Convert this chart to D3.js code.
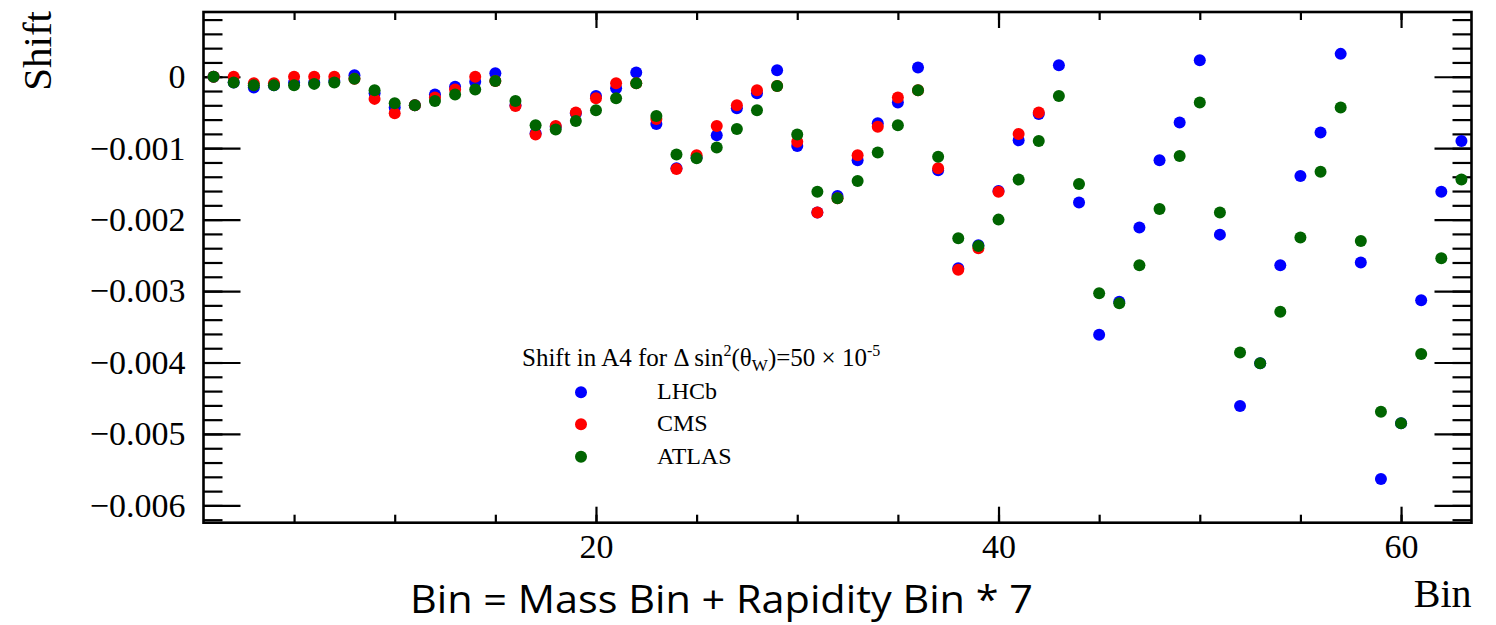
<!DOCTYPE html>
<html>
<head>
<meta charset="utf-8">
<script src="https://cdn.jsdelivr.net/npm/d3@7"></script>
<style>
  body { margin: 0; background: #fff; }
  svg { display: block; }
</style>
</head>
<body>
<div class="outer-container"></div>
<script>
// bin numbers (x categories)
const bins = [1, 2, 3, 4, 5, 6, 7, 8, 9, 10, 11, 12, 13, 14, 15, 16, 17, 18, 19, 20, 21,
  22, 23, 24, 25, 26, 27, 28, 29, 30, 31, 32, 33, 34, 35, 36, 37, 38, 39, 40, 41, 42,
  43, 44, 45, 46, 47, 48, 49, 50, 51, 52, 53, 54, 55, 56, 57, 58, 59, 60, 61, 62, 63]

const lhcb = [0, -0.00008, -0.00015, -0.00012, -0.00008, -0.00008, -0.00006,
  0.00002, -0.00023, -0.00043, -0.0004, -0.00025, -0.00014, -0.00007,
  0.00005, -0.0004, -0.00079, -0.0007, -0.00051, -0.00027, -0.00016,
  0.00006, -0.00066, -0.00128, -0.00113, -0.00082, -0.00044, -0.00023,
  0.00009, -0.00097, -0.0019, -0.00167, -0.00117, -0.00065, -0.00036,
  0.00013, -0.00131, -0.00268, -0.00236, -0.0016, -0.00089, -0.00052,
  0.00016, -0.00176, -0.00361, -0.00315, -0.00211, -0.00117, -0.00064,
  0.00023, -0.00221, -0.00461, -0.00401, -0.00264, -0.00139, -0.00078,
  0.00032, -0.0026, -0.00563, -0.00485, -0.00313, -0.00161, -0.0009]

// CMS only covers the first 42 bins
const cms = [0, 0, -0.00009, -0.00009, 0, 0, 0,
  -0.00003, -0.00031, -0.00051, -0.0004, -0.00029, -0.00018, 0,
  -0.00006, -0.00041, -0.00081, -0.00069, -0.0005, -0.0003, -0.00009,
  -0.00009, -0.00059, -0.00129, -0.0011, -0.00069, -0.0004, -0.00019,
  -0.00013, -0.00091, -0.0019, -0.0017, -0.0011, -0.0007, -0.00029,
  -0.00019, -0.00128, -0.0027, -0.0024, -0.00161, -0.0008, -0.0005]

const atlas = [0, -0.00008, -0.00012, -0.00012, -0.00012, -0.0001, -0.00008,
  -0.00003, -0.00019, -0.00037, -0.0004, -0.00034, -0.00025, -0.00018,
  -0.00006, -0.00034, -0.00068, -0.00074, -0.00062, -0.00047, -0.0003,
  -0.00009, -0.00055, -0.00109, -0.00114, -0.00099, -0.00073, -0.00047,
  -0.00013, -0.00081, -0.00161, -0.0017, -0.00146, -0.00106, -0.00068,
  -0.00019, -0.00112, -0.00226, -0.00237, -0.002, -0.00144, -0.0009,
  -0.00027, -0.0015, -0.00303, -0.00317, -0.00264, -0.00185, -0.00111,
  -0.00036, -0.0019, -0.00386, -0.00401, -0.00329, -0.00225, -0.00133,
  -0.00043, -0.0023, -0.00469, -0.00485, -0.00388, -0.00254, -0.00144]

const seriesNames = ['LHCb', 'CMS', 'ATLAS']
const seriesColors = ['#0000ff', '#ff0000', '#006400']

const xMajorTicks = [20, 40, 60]
const xMinorTicks = [5, 10, 15, 20, 25, 30, 35, 40, 45, 50, 55, 60]
const yMajorTicks = [0, -0.001, -0.002, -0.003, -0.004, -0.005, -0.006]
const yMinorTicks = [0.0008, 0.0006, 0.0004, 0.0002, 0, -0.0002, -0.0004, -0.0006, -0.0008,
  -0.001, -0.0012, -0.0014, -0.0016, -0.0018, -0.002, -0.0022, -0.0024, -0.0026, -0.0028,
  -0.003, -0.0032, -0.0034, -0.0036, -0.0038, -0.004, -0.0042, -0.0044, -0.0046, -0.0048,
  -0.005, -0.0052, -0.0054, -0.0056, -0.0058, -0.006, -0.0062]

const w = 1496
const h = 625
const plotLeft = 203.5
const plotRight = 1471.5
const plotTop = 12
const plotBottom = 522.7
const serif = '"Liberation Serif", "Times New Roman", serif'

const xScale = d3.scaleLinear().domain([0.5, 63.5]).range([plotLeft, plotRight])
const yScale = d3.scaleLinear().domain([-0.006242, 0.000906]).range([plotBottom, plotTop])

const svg = d3.select('.outer-container')
              .append('svg')
              .attr('width', w)
              .attr('height', h)

const yFmt = d => d === 0 ? '0' : d3.format('.3f')(d)

function styleAxis(g, size) {
  g.select('.domain').remove()
  g.selectAll('line').attr('stroke', '#000').attr('stroke-width', 2.2)
  g.attr('font-family', serif).attr('font-size', size)
  g.selectAll('text').attr('fill', '#000')
}

// y axes (left with labels, right mirrored)
svg.append('g')
   .attr('transform', 'translate(' + plotLeft + ',0)')
   .call(d3.axisLeft(yScale).tickValues(yMinorTicks).tickSize(-19).tickFormat(''))
   .call(g => styleAxis(g, 34))
svg.append('g')
   .attr('transform', 'translate(' + plotLeft + ',0)')
   .call(d3.axisLeft(yScale).tickValues(yMajorTicks).tickSize(-37).tickPadding(18).tickFormat(yFmt))
   .call(g => styleAxis(g, 34))
svg.append('g')
   .attr('transform', 'translate(' + plotRight + ',0)')
   .call(d3.axisRight(yScale).tickValues(yMinorTicks).tickSize(-19).tickFormat(''))
   .call(g => styleAxis(g, 34))
svg.append('g')
   .attr('transform', 'translate(' + plotRight + ',0)')
   .call(d3.axisRight(yScale).tickValues(yMajorTicks).tickSize(-37).tickFormat(''))
   .call(g => styleAxis(g, 34))

// x axes (bottom with labels, top mirrored)
svg.append('g')
   .attr('transform', 'translate(0,' + plotBottom + ')')
   .call(d3.axisBottom(xScale).tickValues(xMinorTicks).tickSize(-8).tickFormat(''))
   .call(g => styleAxis(g, 34))
svg.append('g')
   .attr('transform', 'translate(0,' + plotBottom + ')')
   .call(d3.axisBottom(xScale).tickValues(xMajorTicks).tickSize(-16).tickPadding(11))
   .call(g => styleAxis(g, 34))
svg.append('g')
   .attr('transform', 'translate(0,' + plotTop + ')')
   .call(d3.axisTop(xScale).tickValues(xMinorTicks).tickSize(-8).tickFormat(''))
   .call(g => styleAxis(g, 34))
svg.append('g')
   .attr('transform', 'translate(0,' + plotTop + ')')
   .call(d3.axisTop(xScale).tickValues(xMajorTicks).tickSize(-16).tickFormat(''))
   .call(g => styleAxis(g, 34))

// frame
svg.append('rect')
   .attr('x', plotLeft)
   .attr('y', plotTop)
   .attr('width', plotRight - plotLeft)
   .attr('height', plotBottom - plotTop)
   .attr('fill', 'none')
   .attr('stroke', '#000')
   .attr('stroke-width', 2.6)

// points: LHCb, then CMS, then ATLAS on top
const allSeries = [lhcb, cms, atlas]
allSeries.forEach((vals, i) => {
  svg.append('g')
     .selectAll('circle')
     .data(vals)
     .enter()
     .append('circle')
     .attr('cx', (d, j) => xScale(bins[j]))
     .attr('cy', d => yScale(d))
     .attr('r', 6)
     .attr('fill', seriesColors[i])
})

// axis titles
svg.append('text')
   .attr('transform', 'translate(51,' + (plotTop - 1) + ') rotate(-90)')
   .attr('text-anchor', 'end')
   .attr('font-family', serif)
   .attr('font-size', 41)
   .text('Shift')

svg.append('text')
   .attr('x', plotRight)
   .attr('y', 607)
   .attr('text-anchor', 'end')
   .attr('font-family', serif)
   .attr('font-size', 40)
   .text('Bin')

svg.append('text')
   .attr('x', 410)
   .attr('y', 613)
   .attr('font-family', '"Open Sans", "Noto Sans", sans-serif')
   .attr('font-size', 38)
   .attr('textLength', 623)
   .attr('lengthAdjust', 'spacingAndGlyphs')
   .text('Bin = Mass Bin + Rapidity Bin * 7')

// legend
const header = svg.append('text')
   .attr('x', 522)
   .attr('y', 366)
   .attr('font-family', serif)
   .attr('font-size', 25)
header.append('tspan').text('Shift in A4 for \u0394 sin')
header.append('tspan').attr('font-size', 16).attr('dy', -10).text('2')
header.append('tspan').attr('dy', 10).text('(\u03b8')
header.append('tspan').attr('font-size', 17).attr('dy', 5).text('W')
header.append('tspan').attr('dy', -5).text(')=50 \u00d7 10')
header.append('tspan').attr('font-size', 16).attr('dy', -10).text('-5')

const legendY = [392.3, 424.3, 456.7]
seriesNames.forEach((name, i) => {
  svg.append('circle')
     .attr('cx', 581)
     .attr('cy', legendY[i])
     .attr('r', 6)
     .attr('fill', seriesColors[i])
  svg.append('text')
     .attr('x', 657)
     .attr('y', legendY[i] + 7)
     .attr('font-family', serif)
     .attr('font-size', 24)
     .text(name)
})
</script>
</body>
</html>
